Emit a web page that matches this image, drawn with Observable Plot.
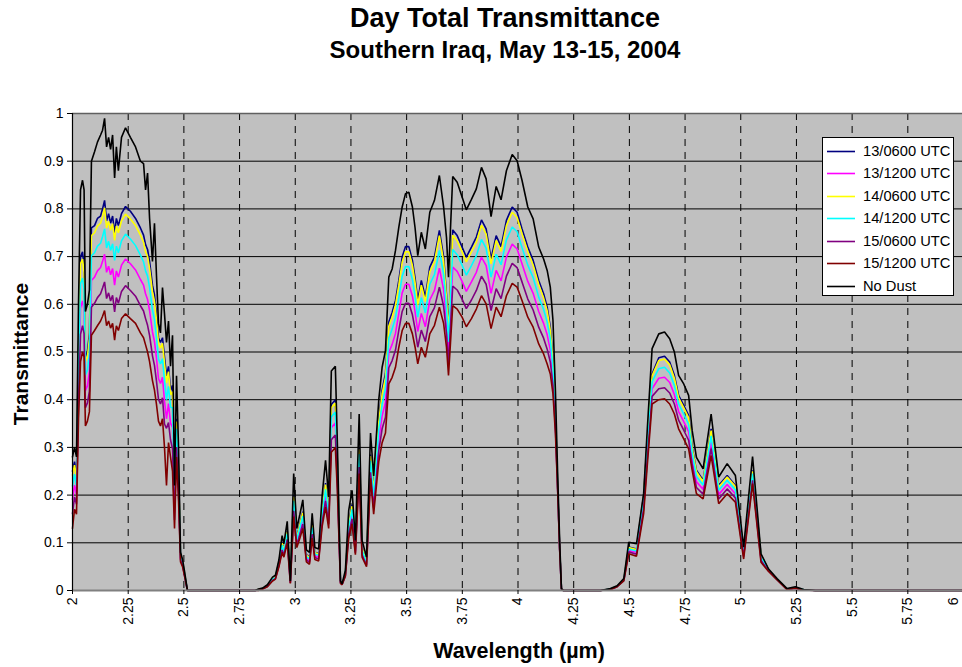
<!DOCTYPE html>
<html><head><meta charset="utf-8">
<script src="https://cdn.jsdelivr.net/npm/d3@7"></script>
<script src="https://cdn.jsdelivr.net/npm/@observablehq/plot@0.6"></script>
<style>
html,body{margin:0;padding:0;background:#fff;overflow:hidden;}
#wrap{position:relative;width:962px;height:667px;overflow:hidden;font-family:"Liberation Sans",Arial,Helvetica,sans-serif;color:#000;}
#chart{position:absolute;left:0;top:0;width:970px;}
#chart svg{max-width:none !important;}
.abs{position:absolute;white-space:nowrap;line-height:1;}
.title{left:505px;transform:translateX(-50%);font-weight:bold;}
#legend{position:absolute;left:822px;top:137px;width:132px;height:159px;border:1px solid #000;background:#fff;box-sizing:border-box;}
#legend .row{position:absolute;left:4px;height:20px;font-size:14.7px;line-height:20px;white-space:nowrap;}
#legend svg{position:absolute;left:0;top:0;}
#legend span{position:absolute;left:36px;top:0;}
</style></head>
<body><div id="wrap"><div id="chart"></div></div>
<script>
// ---- data ----
const wavelength = [
 2.000,2.009,2.018,2.027,2.036,2.045,2.052,2.058,2.067,2.076,
 2.085,2.099,2.112,2.126,2.135,2.144,2.153,2.162,2.171,2.180,
 2.189,2.197,2.206,2.220,2.238,2.260,2.283,2.305,2.319,2.328,
 2.337,2.346,2.359,2.368,2.377,2.386,2.395,2.404,2.413,2.422,
 2.431,2.440,2.449,2.458,2.467,2.476,2.485,2.494,2.503,2.516,2.820,
 2.835,2.853,2.875,2.898,2.911,2.927,2.941,2.949,2.964,2.978,
 2.993,3.007,3.021,3.034,3.050,3.064,3.076,3.088,3.105,3.121,
 3.136,3.150,3.162,3.180,3.189,3.203,3.210,3.225,3.240,3.255,
 3.270,3.287,3.300,3.320,3.338,3.352,3.375,3.390,3.405,3.420,
 3.435,3.450,3.465,3.480,3.495,3.510,3.526,3.538,3.550,3.566,
 3.584,3.604,3.625,3.647,3.666,3.679,3.688,3.697,3.707,3.727,
 3.749,3.768,3.791,3.813,3.836,3.857,3.879,3.902,3.924,3.948,
 3.974,3.996,4.018,4.044,4.068,4.093,4.115,4.131,4.145,4.157,
 4.168,4.178,4.187,4.195,4.204,4.370,4.415,4.445,4.475,4.497,
 4.532,4.564,4.580,4.602,4.632,4.658,4.681,4.702,4.721,4.744,
 4.766,4.782,4.801,4.831,4.867,4.901,4.939,4.976,5.013,5.053,
 5.091,5.125,5.163,5.208,5.245,5.282,5.335,6.000
];
const s13_0600 = [
 .25,.27,.24,.50,.70,.71,.68,.49,.50,.54,
 .76,.765,.78,.785,.80,.818,.775,.79,.77,.785,
 .75,.78,.765,.79,.805,.795,.78,.76,.745,.725,
 .715,.69,.64,.62,.58,.53,.52,.53,.49,.45,
 .47,.42,.43,.20,.36,.25,.075,.06,.035,0,0,
 .002,.004,.01,.025,.028,.06,.10,.085,.125,.02,
 .20,.11,.14,.165,.075,.07,.14,.08,.078,.17,
 .225,.165,.39,.40,.27,.02,.013,.035,.14,.18,
 .09,.30,.09,.06,.285,.21,.36,.42,.455,.563,
 .583,.608,.65,.699,.721,.721,.692,.655,.608,.65,
 .615,.678,.699,.755,.70,.62,.545,.65,.756,.744,
 .72,.699,.72,.741,.777,.758,.695,.744,.721,.776,
 .804,.793,.758,.72,.692,.65,.622,.594,.552,.482,
 .371,.22,.09,.003,0,0,.003,.009,.022,.091,
 .087,.20,.31,.454,.488,.491,.479,.451,.409,.388,
 .367,.30,.252,.231,.339,.22,.241,.22,.084,.252,
 .074,.043,.024,.003,.006,.002,0,0
];
const s13_1200 = [
 .191,.221,.201,.431,.592,.607,.587,.419,.429,.459,
 .650,.657,.670,.677,.690,.705,.667,.680,.662,.675,
 .640,.670,.657,.682,.695,.685,.672,.652,.640,.622,
 .610,.587,.542,.522,.487,.444,.434,.447,.397,.360,
 .392,.351,.342,.166,.321,.221,.068,.055,.033,0,0,
 .001,.004,.009,.023,.026,.055,.090,.078,.113,.018,
 .178,.100,.125,.148,.068,.063,.125,.073,.070,.153,
 .201,.148,.341,.351,.241,.018,.013,.033,.125,.160,
 .083,.273,.080,.055,.261,.186,.316,.366,.394,.499,
 .516,.539,.581,.624,.642,.642,.617,.584,.543,.581,
 .553,.609,.629,.676,.631,.566,.499,.586,.678,.669,
 .648,.627,.647,.667,.699,.681,.623,.671,.649,.699,
 .726,.716,.685,.648,.623,.585,.560,.536,.504,.448,
 .350,.215,.088,.003,0,0,.003,.009,.021,.084,
 .080,.181,.286,.423,.445,.447,.436,.411,.375,.354,
 .333,.276,.228,.212,.312,.201,.222,.203,.075,.238,
 .067,.042,.023,.003,.006,.002,0,0
];
const s14_0600 = [
 .242,.263,.234,.490,.685,.695,.667,.480,.490,.528,
 .744,.750,.764,.770,.784,.802,.760,.774,.755,.769,
 .734,.764,.750,.775,.789,.779,.765,.745,.730,.710,
 .700,.675,.626,.606,.567,.518,.508,.518,.477,.435,
 .459,.410,.417,.195,.354,.246,.074,.059,.035,0,0,
 .002,.004,.010,.025,.028,.059,.099,.084,.123,.020,
 .197,.109,.138,.163,.074,.069,.138,.079,.077,.168,
 .222,.163,.383,.393,.266,.020,.013,.035,.138,.177,
 .089,.296,.089,.059,.282,.207,.354,.412,.446,.554,
 .573,.598,.640,.688,.710,.710,.681,.645,.599,.640,
 .606,.668,.689,.744,.690,.612,.538,.641,.745,.733,
 .710,.689,.710,.730,.766,.747,.685,.734,.711,.765,
 .793,.782,.748,.710,.682,.641,.613,.586,.545,.477,
 .368,.219,.090,.003,0,0,.003,.009,.022,.090,
 .086,.197,.307,.450,.482,.485,.473,.445,.404,.383,
 .362,.297,.249,.228,.335,.217,.238,.218,.083,.250,
 .073,.043,.024,.003,.006,.002,0,0
];
const s14_1200 = [
 .219,.244,.219,.464,.643,.655,.631,.452,.462,.497,
 .702,.708,.722,.728,.742,.758,.718,.732,.713,.727,
 .692,.722,.708,.733,.747,.737,.723,.703,.689,.670,
 .659,.635,.588,.568,.531,.485,.475,.486,.441,.400,
 .428,.384,.383,.182,.339,.234,.071,.057,.034,0,0,
 .001,.004,.009,.024,.027,.057,.095,.081,.119,.019,
 .188,.105,.132,.156,.071,.066,.132,.076,.074,.161,
 .212,.156,.364,.374,.254,.019,.013,.034,.132,.170,
 .086,.286,.085,.057,.272,.197,.337,.391,.423,.529,
 .548,.572,.614,.659,.679,.679,.652,.617,.573,.614,
 .582,.642,.662,.713,.664,.591,.521,.616,.715,.704,
 .682,.661,.681,.702,.736,.717,.657,.705,.683,.735,
 .762,.752,.719,.682,.656,.615,.589,.563,.527,.464,
 .360,.217,.089,.003,0,0,.003,.009,.021,.087,
 .083,.190,.297,.438,.465,.468,.456,.430,.391,.370,
 .349,.288,.239,.221,.324,.210,.231,.211,.079,.245,
 .070,.042,.023,.003,.006,.002,0,0
];
const s15_0600 = [
 .161,.196,.181,.396,.537,.555,.539,.383,.393,.418,
 .594,.602,.614,.622,.634,.647,.612,.624,.607,.619,
 .584,.614,.602,.627,.639,.629,.617,.597,.586,.570,
 .556,.535,.492,.472,.439,.401,.391,.404,.349,.340,
 .352,.316,.297,.148,.301,.206,.064,.053,.031,0,0,
 .001,.003,.009,.021,.025,.053,.085,.074,.107,.016,
 .167,.095,.118,.139,.064,.059,.118,.069,.066,.144,
 .188,.139,.316,.326,.226,.016,.012,.031,.118,.150,
 .079,.259,.075,.053,.248,.173,.293,.339,.363,.467,
 .482,.504,.546,.585,.602,.602,.578,.548,.510,.546,
 .522,.574,.593,.636,.596,.539,.475,.554,.638,.630,
 .611,.591,.609,.629,.659,.642,.587,.633,.612,.659,
 .686,.677,.647,.611,.588,.552,.529,.506,.479,.430,
 .340,.213,.086,.003,0,0,.002,.008,.021,.081,
 .076,.171,.273,.407,.423,.425,.414,.391,.357,.336,
 .315,.264,.216,.202,.298,.192,.213,.194,.071,.231,
 .063,.041,.023,.002,.005,.001,0,0
];
const s15_1200 = [
 .13,.17,.16,.36,.48,.50,.49,.345,.355,.375,
 .535,.545,.555,.565,.575,.587,.555,.565,.55,.56,
 .525,.555,.545,.57,.58,.57,.56,.54,.53,.515,
 .50,.48,.44,.42,.39,.355,.345,.36,.30,.22,
 .31,.28,.25,.13,.28,.19,.06,.05,.03,0,0,
 0,.003,.008,.02,.024,.05,.08,.07,.10,.015,
 .155,.09,.11,.13,.06,.055,.11,.065,.062,.135,
 .175,.13,.29,.30,.21,.015,.012,.03,.11,.14,
 .075,.245,.07,.05,.235,.16,.27,.31,.33,.433,
 .447,.468,.51,.545,.56,.56,.538,.51,.475,.51,
 .489,.538,.556,.594,.56,.51,.451,.52,.597,.59,
 .573,.553,.57,.59,.618,.601,.549,.594,.574,.618,
 .644,.636,.608,.573,.552,.517,.496,.475,.454,.412,
 .329,.21,.085,.003,0,0,.002,.008,.02,.077,
 .072,.161,.26,.391,.40,.402,.391,.37,.339,.318,
 .297,.252,.203,.192,.283,.182,.203,.185,.066,.224,
 .059,.04,.022,.002,.005,.001,0,0
];
const noDust = [
 .28,.30,.28,.60,.84,.86,.84,.585,.60,.63,
 .90,.92,.94,.955,.965,.99,.93,.95,.925,.955,
 .865,.93,.88,.95,.97,.95,.93,.90,.895,.84,
 .875,.78,.69,.77,.66,.56,.54,.635,.58,.52,
 .565,.47,.535,.22,.45,.30,.08,.065,.04,0,0,
 .003,.005,.012,.028,.032,.065,.115,.098,.145,.02,
 .245,.13,.16,.19,.085,.08,.162,.09,.087,.20,
 .273,.196,.46,.47,.31,.02,.014,.042,.168,.21,
 .105,.37,.105,.07,.33,.24,.40,.468,.503,.657,
 .674,.713,.762,.804,.832,.835,.804,.76,.702,.751,
 .716,.793,.818,.87,.804,.74,.657,.76,.868,.856,
 .825,.798,.82,.842,.887,.863,.784,.847,.819,.88,
 .914,.901,.86,.804,.779,.72,.695,.671,.636,.566,
 .419,.245,.105,.004,0,0,.004,.01,.025,.101,
 .098,.203,.335,.507,.538,.542,.528,.50,.451,.433,
 .409,.335,.279,.255,.37,.238,.266,.241,.091,.281,
 .077,.045,.025,.004,.008,.002,0,0
];
const seriesNames = ["13/0600 UTC","13/1200 UTC","14/0600 UTC","14/1200 UTC","15/0600 UTC","15/1200 UTC","No Dust"];
const seriesColors = ["#000080","#ff00ff","#ffff00","#00ffff","#800080","#800000","#000000"];
const seriesValues = [s13_0600, s13_1200, s14_0600, s14_1200, s15_0600, s15_1200, noDust];
const xTicks = [2,2.25,2.5,2.75,3,3.25,3.5,3.75,4,4.25,4.5,4.75,5,5.25,5.5,5.75,6];
const xTickLabels = ["2","2.25","2.5","2.75","3","3.25","3.5","3.75","4","4.25","4.5","4.75","5","5.25","5.5","5.75","6"];
const yTicks = [0,0.1,0.2,0.3,0.4,0.5,0.6,0.7,0.8,0.9,1];
const yTickLabels = ["0","0.1","0.2","0.3","0.4","0.5","0.6","0.7","0.8","0.9","1"];
const titleText = "Day Total Transmittance";
const subtitleText = "Southern Iraq, May 13-15, 2004";
const xTitle = "Wavelength (µm)";
const yTitle = "Transmittance";

// ---- build ----
const rows = [];
seriesNames.forEach((name, k) => {
  const vals = seriesValues[k];
  wavelength.forEach((w, i) => rows.push({name, w, t: vals[i]}));
});
const xLab = new Map(xTicks.map((t, i) => [t, xTickLabels[i]]));
const yLab = new Map(yTicks.map((t, i) => [t, yTickLabels[i]]));
const lastTick = xTicks[xTicks.length - 1];

const chart = Plot.plot({
  width: 970, height: 667,
  marginLeft: 72, marginRight: 7, marginTop: 113, marginBottom: 77,
  style: {fontFamily: "'Liberation Sans', Arial, sans-serif", fontSize: "14px", color: "#000", background: "transparent", overflow: "visible", maxWidth: "none"},
  x: {domain: [2, 6]},
  y: {domain: [0, 1]},
  color: {domain: seriesNames, range: seriesColors},
  marks: [
    Plot.frame({fill: "#c0c0c0", stroke: null}),
    Plot.ruleY(yTicks.slice(1), {stroke: "#000", strokeWidth: 1}),
    Plot.ruleX(xTicks.slice(1, -1), {stroke: "#000", strokeWidth: 1, strokeDasharray: "7,6"}),
    Plot.line(rows, {x: "w", y: "t", z: "name", stroke: "name", strokeWidth: 1.6, strokeLinejoin: "miter"}),
    Plot.ruleY([0], {stroke: "#808080", strokeWidth: 2}),
    Plot.ruleY([1], {stroke: "#606060", strokeWidth: 1.5}),
    Plot.ruleX([2], {stroke: "#000", strokeWidth: 1.2}),
    Plot.axisX({ticks: xTicks, tickFormat: d => (d === lastTick ? "" : xLab.get(d)), tickRotate: -90, tickSize: 4, tickPadding: 3, label: null, fontSize: 14}),
    // last tick label sits at the clipped right edge; nudge it inside so it stays readable
    Plot.text([lastTick], {x: d => d, frameAnchor: "bottom", text: d => xLab.get(d), rotate: -90, textAnchor: "end", dy: 7, dx: -6, fontSize: 14}),
    Plot.axisY({ticks: yTicks, tickFormat: d => yLab.get(d), tickSize: 5, tickPadding: 4, label: null, fontSize: 14})
  ]
});
chart.style.maxWidth = "none";
chart.style.width = "970px";
chart.style.height = "667px";
document.getElementById("chart").appendChild(chart);

const wrap = document.getElementById("wrap");
function addText(txt, cls, css) {
  const d = document.createElement("div");
  d.className = "abs " + cls;
  d.textContent = txt;
  Object.assign(d.style, css);
  wrap.appendChild(d);
  return d;
}
addText(titleText, "title", {top: "5px", fontSize: "27px"});
addText(subtitleText, "title", {top: "38px", fontSize: "24px"});
addText(xTitle, "", {left: "519px", top: "641px", transform: "translateX(-50%)", fontSize: "21.5px", fontWeight: "bold"});
addText(yTitle, "", {left: "20px", top: "354px", transform: "translate(-50%,-50%) rotate(-90deg)", fontSize: "21px", fontWeight: "bold"});

// legend
const lg = document.createElement("div");
lg.id = "legend";
seriesNames.forEach((name, k) => {
  const r = document.createElement("div");
  r.className = "row";
  r.style.top = (2.5 + k * 22.5) + "px";
  r.innerHTML = `<svg width="32" height="20"><line x1="0" x2="28" y1="10.5" y2="10.5" stroke="${seriesColors[k]}" stroke-width="1.6"/></svg><span></span>`;
  r.querySelector("span").textContent = name;
  lg.appendChild(r);
});
wrap.appendChild(lg);

if (seriesValues.some(v => v.length !== wavelength.length)) {
  addText("LENGTH MISMATCH " + seriesValues.map(v => v.length).join(",") + " vs " + wavelength.length, "", {left: "10px", top: "80px", color: "red"});
}
</script>
</body></html>
